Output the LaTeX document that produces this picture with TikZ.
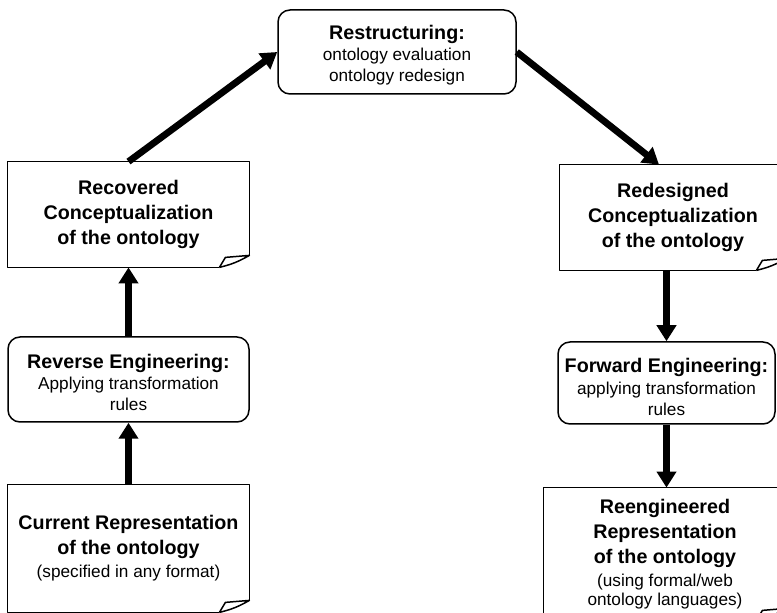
\documentclass[tikz,border=0pt]{standalone}
\usepackage{fontspec}
\setmainfont{Liberation Sans}
\usetikzlibrary{arrows.meta,calc}
\newcommand\hd{\fontsize{9.85}{12.5}\selectfont\bfseries}
\newcommand\bd{\fontsize{8.6}{10.6}\selectfont\mdseries}
% outline of a sheet of paper with a curled lower right corner
\newcommand\docframe[1]{%
  \draw[boxline,line join=round] ([xshift=-15pt]#1.south east) -- (#1.south west)
     -- (#1.north west) -- (#1.north east) -- ([yshift=6pt]#1.south east);
  \draw[boxline,line join=round] ([xshift=-15pt]#1.south east)
     -- ([xshift=-12pt,yshift=5pt]#1.south east) -- ([yshift=6pt]#1.south east)
     to[bend left=8] ([xshift=-15pt]#1.south east);}
\begin{document}
\begin{tikzpicture}[x=0.5pt,y=-0.5pt,
  boxline/.style={line width=0.75pt,draw=black},
  procbox/.style={boxline,rounded corners=6pt,inner sep=0pt},
  proctext/.style={inner sep=0pt,align=center,font=\bd},
  docbox/.style={inner sep=0pt,align=center,font=\hd},
  flow/.style={line width=3.4pt,-{Triangle[length=8pt,width=9.5pt]}}]
\path[use as bounding box] (0,0) rectangle (777,613);
\clip (0,0) rectangle (777,613);

% process steps
\node[procbox,minimum width=119pt,minimum height=42pt] (rst) at (397,52) {};
\node[proctext] (rst-t) at ([yshift=-1.5pt]rst.center)
  {\hd Restructuring:\\ \bd ontology evaluation\\ \bd ontology redesign};
\node[procbox,minimum width=120.5pt,minimum height=42.5pt] (rev) at (128.5,379.5) {};
\node[proctext] (rev-t) at ([yshift=-1.5pt]rev.center)
  {\hd Reverse Engineering:\\ \bd Applying transformation\\ \bd rules};
\node[procbox,minimum width=108.5pt,minimum height=41pt] (fwd) at (666.5,383) {};
\node[proctext] (fwd-t) at ([yshift=-2pt]fwd.center)
  {\hd Forward Engineering:\\ \bd applying transformation\\ \bd rules};

% documents
\node[docbox,minimum width=120.5pt,minimum height=52.5pt] (rec) at (128.5,214.5)
  {\hd Recovered\\ \hd Conceptualization\\ \hd of the ontology};
\node[docbox,minimum width=113pt,minimum height=52.5pt] (red) at (673,217.5)
  {\hd Redesigned\\ \hd Conceptualization\\ \hd of the ontology};
\node[docbox,minimum width=120.5pt,minimum height=63.5pt] (cur) at (128.5,548.5)
  {\hd Current Representation\\ \hd of the ontology\\[-1pt] \bd (specified in any format)};
\node[docbox,minimum width=121pt,minimum height=66pt] (ren) at (665,554)
  {\hd Reengineered\\ \hd Representation\\ \hd of the ontology\\[-1pt] \bd (using formal/web\\[-3pt] \bd ontology languages)};
\docframe{rec}
\docframe{red}
\docframe{cur}
\docframe{ren}

% flow of the reengineering process
\draw[flow] (cur.north) -- (rev.south);
\draw[flow] (rev.north) -- (rec.south);
\draw[flow] (rec.north) -- (rst.west);
\draw[flow] (rst.east) -- ([xshift=-7pt]red.north);
\draw[flow] (fwd.north |- red.south) -- (fwd.north);
\draw[flow] (fwd.south) -- (fwd.south |- ren.north);
\end{tikzpicture}
\end{document}
